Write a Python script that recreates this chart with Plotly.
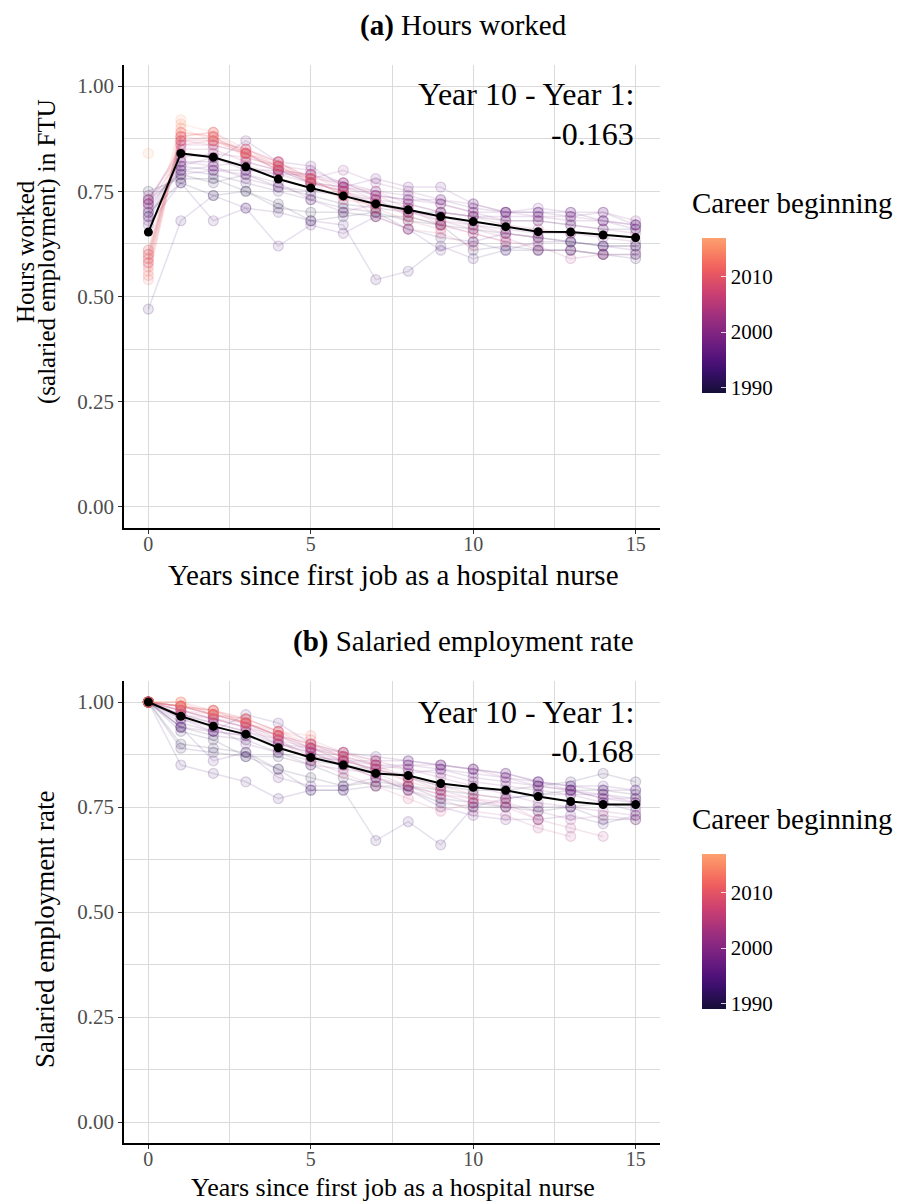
import numpy as np
import plotly.graph_objects as go
import plotly.express as px
from plotly.colors import sample_colorscale

# ---------------- data ----------------
years_since = list(range(16))
cohorts = list(range(1989, 2018))

# mean trajectories (black line)
hours_mean = [0.653, 0.840, 0.831, 0.808, 0.779, 0.758, 0.739, 0.720, 0.706, 0.690,
              0.678, 0.666, 0.654, 0.653, 0.646, 0.640]
emp_mean = [1.000, 0.966, 0.942, 0.923, 0.891, 0.868, 0.850, 0.830, 0.825, 0.806,
            0.797, 0.790, 0.775, 0.763, 0.756, 0.756]

# hours worked (salaried employment) in FTU, by career-beginning cohort
hours_1989 = [0.75, 0.78, 0.78, 0.75, 0.71, 0.70, 0.70, 0.69, 0.69, 0.67, 0.66, 0.65, 0.64, 0.63, 0.62, 0.62]
hours_1990 = [0.70, 0.77, 0.74, 0.75, 0.72, 0.68, 0.69, 0.70, 0.68, 0.67, 0.61, 0.62, 0.61, 0.61, 0.60, 0.60]
hours_1991 = [0.73, 0.79, 0.77, 0.79, 0.76, 0.74, 0.72, 0.71, 0.70, 0.70, 0.69, 0.68, 0.68, 0.67, 0.66, 0.66]
hours_1992 = [0.69, 0.80, 0.79, 0.77, 0.75, 0.73, 0.71, 0.70, 0.66, 0.64, 0.63, 0.61, 0.61, 0.61, 0.60, 0.59]
hours_1993 = [0.47, 0.68, 0.74, 0.71, 0.70, 0.68, 0.67, 0.54, 0.56, 0.62, 0.59, 0.61, 0.63, 0.63, 0.62, 0.62]
hours_1994 = [0.71, 0.81, 0.80, 0.80, 0.80, 0.77, 0.76, 0.74, 0.73, 0.73, 0.71, 0.70, 0.70, 0.70, 0.68, 0.67]
hours_1995 = [0.67, 0.77, 0.68, 0.71, 0.62, 0.67, 0.65, 0.69, 0.66, 0.61, 0.63, 0.65, 0.64, 0.63, 0.62, 0.61]
hours_1996 = [0.69, 0.82, 0.82, 0.87, 0.82, 0.81, 0.76, 0.78, 0.76, 0.76, 0.72, 0.70, 0.70, 0.69, 0.70, 0.67]
hours_1997 = [0.72, 0.80, 0.81, 0.78, 0.76, 0.75, 0.74, 0.73, 0.72, 0.70, 0.69, 0.69, 0.69, 0.68, 0.68, 0.66]
hours_1998 = [0.68, 0.81, 0.83, 0.80, 0.79, 0.79, 0.77, 0.75, 0.74, 0.72, 0.70, 0.70, 0.71, 0.70, 0.70, 0.68]
hours_1999 = [0.74, 0.79, 0.80, 0.79, 0.77, 0.73, 0.70, 0.72, 0.70, 0.69, 0.67, 0.66, 0.65, 0.65, 0.64, 0.63]
hours_2000 = [0.70, 0.82, 0.81, 0.82, 0.80, 0.78, 0.80, 0.77, 0.75, 0.73, 0.72, 0.70, 0.69, 0.69, 0.68, 0.67]
hours_2001 = [0.72, 0.83, 0.84, 0.83, 0.81, 0.80, 0.77, 0.74, 0.73, 0.72, 0.70, 0.68, 0.68, 0.67, 0.66, 0.65]
hours_2002 = [0.73, 0.84, 0.83, 0.81, 0.79, 0.77, 0.75, 0.73, 0.70, 0.68, 0.66, 0.64, 0.61, 0.61, 0.60, 0.60]
hours_2003 = [0.73, 0.85, 0.85, 0.82, 0.80, 0.77, 0.75, 0.72, 0.71, 0.67, 0.65, 0.63, 0.62, 0.59, 0.60]
hours_2004 = [0.72, 0.86, 0.86, 0.84, 0.80, 0.79, 0.76, 0.75, 0.72, 0.70, 0.69, 0.67, 0.66, 0.65]
hours_2005 = [0.60, 0.86, 0.87, 0.85, 0.82, 0.78, 0.77, 0.74, 0.71, 0.68, 0.67, 0.65, 0.64]
hours_2006 = [0.61, 0.87, 0.86, 0.84, 0.81, 0.77, 0.76, 0.73, 0.69, 0.67, 0.65, 0.63]
hours_2007 = [0.58, 0.87, 0.88, 0.84, 0.80, 0.79, 0.75, 0.69, 0.66, 0.65, 0.62]
hours_2008 = [0.59, 0.88, 0.89, 0.85, 0.82, 0.77, 0.75, 0.71, 0.68, 0.66]
hours_2009 = [0.57, 0.87, 0.87, 0.84, 0.81, 0.77, 0.73, 0.72, 0.70]
hours_2010 = [0.55, 0.88, 0.87, 0.85, 0.81, 0.78, 0.74, 0.71]
hours_2011 = [0.58, 0.89, 0.88, 0.84, 0.82, 0.78, 0.74]
hours_2012 = [0.60, 0.88, 0.89, 0.84, 0.80, 0.78]
hours_2013 = [0.54, 0.89, 0.88, 0.83, 0.81]
hours_2014 = [0.56, 0.90, 0.87, 0.84]
hours_2015 = [0.59, 0.91, 0.89]
hours_2016 = [0.61, 0.92]
hours_2017 = [0.84]

# salaried employment rate, by career-beginning cohort
emp_1989 = [1.00, 0.90, 0.89, 0.88, 0.84, 0.82, 0.80, 0.81, 0.80, 0.79, 0.78, 0.77, 0.78, 0.79, 0.79, 0.78]
emp_1990 = [1.00, 0.93, 0.91, 0.87, 0.87, 0.85, 0.82, 0.80, 0.79, 0.76, 0.75, 0.75, 0.74, 0.75, 0.72, 0.72]
emp_1991 = [1.00, 0.94, 0.92, 0.91, 0.88, 0.86, 0.85, 0.84, 0.82, 0.80, 0.79, 0.79, 0.80, 0.81, 0.83, 0.81]
emp_1992 = [1.00, 0.89, 0.88, 0.87, 0.84, 0.79, 0.79, 0.80, 0.80, 0.77, 0.76, 0.75, 0.75, 0.75, 0.76, 0.74]
emp_1993 = [1.00, 0.85, 0.83, 0.81, 0.77, 0.79, 0.79, 0.67, 0.715, 0.66, 0.75, 0.77, 0.78, 0.78, 0.78, 0.77]
emp_1994 = [1.00, 0.95, 0.93, 0.97, 0.95, 0.90, 0.88, 0.87, 0.86, 0.85, 0.84, 0.83, 0.81, 0.80, 0.80, 0.79]
emp_1995 = [1.00, 0.94, 0.86, 0.88, 0.82, 0.80, 0.80, 0.82, 0.79, 0.75, 0.73, 0.72, 0.72, 0.73, 0.71, 0.73]
emp_1996 = [1.00, 0.94, 0.93, 0.92, 0.90, 0.89, 0.87, 0.85, 0.85, 0.84, 0.83, 0.82, 0.81, 0.80, 0.79, 0.79]
emp_1997 = [1.00, 0.96, 0.94, 0.90, 0.88, 0.85, 0.84, 0.83, 0.83, 0.84, 0.82, 0.81, 0.80, 0.79, 0.77, 0.76]
emp_1998 = [1.00, 0.97, 0.95, 0.93, 0.90, 0.88, 0.86, 0.86, 0.86, 0.85, 0.84, 0.83, 0.81, 0.79, 0.77, 0.77]
emp_1999 = [1.00, 0.96, 0.93, 0.92, 0.89, 0.87, 0.86, 0.85, 0.84, 0.83, 0.81, 0.80, 0.79, 0.78, 0.76, 0.75]
emp_2000 = [1.00, 0.97, 0.95, 0.93, 0.91, 0.87, 0.86, 0.84, 0.85, 0.85, 0.84, 0.82, 0.80, 0.79, 0.78, 0.76]
emp_2001 = [1.00, 0.98, 0.96, 0.94, 0.92, 0.89, 0.88, 0.86, 0.84, 0.82, 0.80, 0.78, 0.76, 0.75, 0.74, 0.73]
emp_2002 = [1.00, 0.98, 0.96, 0.94, 0.90, 0.88, 0.85, 0.82, 0.80, 0.78, 0.76, 0.76, 0.74, 0.72, 0.73, 0.72]
emp_2003 = [1.00, 0.97, 0.96, 0.95, 0.91, 0.89, 0.86, 0.84, 0.82, 0.79, 0.77, 0.75, 0.72, 0.70, 0.68]
emp_2004 = [1.00, 0.99, 0.97, 0.95, 0.92, 0.88, 0.85, 0.82, 0.79, 0.77, 0.74, 0.73, 0.70, 0.68]
emp_2005 = [1.00, 0.99, 0.97, 0.96, 0.93, 0.89, 0.87, 0.83, 0.80, 0.78, 0.77, 0.76, 0.72]
emp_2006 = [1.00, 0.99, 0.98, 0.95, 0.92, 0.90, 0.88, 0.85, 0.82, 0.80, 0.78, 0.77]
emp_2007 = [1.00, 0.98, 0.96, 0.94, 0.91, 0.86, 0.83, 0.80, 0.77, 0.74, 0.76]
emp_2008 = [1.00, 0.99, 0.97, 0.95, 0.92, 0.89, 0.86, 0.84, 0.81, 0.79]
emp_2009 = [1.00, 0.98, 0.97, 0.95, 0.92, 0.90, 0.87, 0.85, 0.81]
emp_2010 = [1.00, 0.99, 0.98, 0.96, 0.93, 0.91, 0.88, 0.86]
emp_2011 = [1.00, 1.00, 0.98, 0.96, 0.93, 0.90, 0.87]
emp_2012 = [1.00, 0.99, 0.97, 0.95, 0.93, 0.92]
emp_2013 = [1.00, 0.99, 0.98, 0.95, 0.92]
emp_2014 = [1.00, 1.00, 0.97, 0.96]
emp_2015 = [1.00, 0.99, 0.98]
emp_2016 = [1.00, 1.00]
emp_2017 = [1.00]

hours_diff_label = "-0.163"
emp_diff_label = "-0.168"
x_tick_vals = [0, 5, 10, 15]
y_tick_vals = [0.0, 0.25, 0.5, 0.75, 1.0]
y_tick_text = ["0.00", "0.25", "0.50", "0.75", "1.00"]
cbar_ticks = [1990, 2000, 2010]

hours_series = [globals()[f"hours_{c}"] for c in cohorts]
emp_series = [globals()[f"emp_{c}"] for c in cohorts]

# ---------------- styling ----------------
FONT = "Liberation Serif"
CMIN, CMAX = 1989, 2017
anchors = np.linspace(0.1, 0.8, 15)
scale_cols = sample_colorscale(px.colors.sequential.Magma, list(anchors))
colorscale = [[i / (len(scale_cols) - 1), c] for i, c in enumerate(scale_cols)]


def cohort_rgb(c):
    t = (c - CMIN) / (CMAX - CMIN)
    col = sample_colorscale(colorscale, [t])[0]
    return col.replace("rgb(", "").replace(")", "")


# page body has an 8px margin: the figure is drawn 8px in from the corner
OFF = 8
W, H = 906 - OFF, 1202 - OFF
ML, MR, MT, MB = 124 - OFF, 906 - 660, 65 - OFF, 1202 - 1143
PW = W - ML - MR
PH = H - MT - MB


def px_x(p):  # reference-page pixel -> paper x
    return (p - OFF - ML) / PW


def px_y(p):  # reference-page pixel -> paper y
    return (H - MB - (p - OFF)) / PH


fig = go.Figure()

panels = [("x", "y", hours_series, hours_mean, "coloraxis"),
          ("x2", "y2", emp_series, emp_mean, "coloraxis2")]

for xa, ya, series, mean, cax in panels:
    for c, vals in zip(cohorts, series):
        rgb = cohort_rgb(c)
        fig.add_trace(go.Scatter(
            x=years_since[:len(vals)], y=vals, xaxis=xa, yaxis=ya,
            mode="lines+markers", showlegend=False, hoverinfo="skip",
            line=dict(color=f"rgba({rgb},0.13)", width=1.5),
            marker=dict(size=10, color=f"rgba({rgb},0.10)",
                        line=dict(color=f"rgba({rgb},0.18)", width=1.2)),
        ))
    fig.add_trace(go.Scatter(
        x=years_since, y=mean, xaxis=xa, yaxis=ya, mode="lines+markers",
        showlegend=False, line=dict(color="black", width=2),
        marker=dict(size=9, color="black"),
    ))
    # dummy trace carrying the colour axis
    fig.add_trace(go.Scatter(
        x=[None], y=[None], xaxis=xa, yaxis=ya, mode="markers", showlegend=False,
        marker=dict(color=[CMIN], coloraxis=cax),
    ))

grid = "#dadada"
tickfont = dict(family=FONT, size=21, color="#4d4d4d")
xcommon = dict(range=[-0.75, 15.75], tickvals=x_tick_vals, showgrid=True,
               gridcolor=grid, gridwidth=1, zeroline=False, showline=True,
               linecolor="black", linewidth=1.5, ticks="outside", ticklen=4,
               tickcolor="#333333", tickwidth=1,
               tickfont=dict(family=FONT, size=20, color="#4d4d4d"),
               ticklabelstandoff=-7,
               minor=dict(tickvals=[2.5, 7.5, 12.5], showgrid=True, gridcolor=grid,
                          gridwidth=1, ticks=""))
ycommon = dict(range=[-0.05, 1.05], tickvals=y_tick_vals, ticktext=y_tick_text,
               showgrid=True, gridcolor=grid, gridwidth=1, zeroline=False,
               showline=True, linecolor="black", linewidth=1.5, ticks="outside",
               ticklen=4, tickcolor="#333333", tickwidth=1, tickfont=tickfont,
               minor=dict(tickvals=[0.125, 0.375, 0.625, 0.875], showgrid=True,
                          gridcolor=grid, gridwidth=1, ticks=""))

ya_bottom = px_y(528)
yb_top = px_y(681)

cbar_common = dict(thickness=24, lenmode="pixels", len=175, xanchor="left",
                   x=px_x(692), yanchor="middle", outlinewidth=0,
                   tickvals=cbar_ticks, ticks="inside", ticklen=5,
                   tickcolor="rgba(255,255,255,0.8)", tickwidth=1.2,
                   tickfont=dict(family=FONT, size=21, color="black"))

fig.update_layout(
    width=W, height=H, autosize=False,
    margin=dict(l=ML, r=MR, t=MT, b=MB),
    paper_bgcolor="white", plot_bgcolor="white",
    font=dict(family=FONT, color="black"),
    xaxis=dict(domain=[0, 1], anchor="y", **xcommon),
    yaxis=dict(domain=[ya_bottom, 1], anchor="x", **ycommon),
    xaxis2=dict(domain=[0, 1], anchor="y2", **xcommon),
    yaxis2=dict(domain=[0, yb_top], anchor="x2", **ycommon),
    coloraxis=dict(colorscale=colorscale, cmin=CMIN, cmax=CMAX,
                   colorbar=dict(y=px_y(315.5), **cbar_common)),
    coloraxis2=dict(colorscale=colorscale, cmin=CMIN, cmax=CMAX,
                    colorbar=dict(y=px_y(931.5), **cbar_common)),
)

ann = []


def add_text(text, xp, yp, size, xanchor="center", yanchor="middle", angle=0):
    ann.append(dict(text=text, x=px_x(xp), y=px_y(yp), xref="paper", yref="paper",
                    xanchor=xanchor, yanchor=yanchor, showarrow=False, textangle=angle,
                    font=dict(family=FONT, size=size, color="black")))


# panel titles
add_text("<b>(a)</b> Hours worked", 463, 25, 29)
add_text("<b>(b)</b> Salaried employment rate", 463, 641, 29)
# x axis titles
add_text("Years since first job as a hospital nurse", 393, 575, 29)
add_text("Years since first job as a hospital nurse", 393, 1187, 26)
# y axis titles
add_text("Hours worked", 26, 252, 25, angle=-90)
add_text("(salaried employment) in FTU", 47, 252, 25, angle=-90)
add_text("Salaried employment rate", 45, 930, 27, angle=-90)
# colourbar titles
add_text("Career beginning", 690, 203, 29, xanchor="left")
add_text("Career beginning", 690, 819, 29, xanchor="left")

# difference annotations (data coords)
for xr, yr, lab, y1, y2 in [("x", "y", hours_diff_label, 0.981, 0.887),
                            ("x2", "y2", emp_diff_label, 0.976, 0.884)]:
    ann.append(dict(text="Year 10 - Year 1:", x=15, y=y1, xref=xr, yref=yr,
                    xanchor="right", yanchor="middle", showarrow=False,
                    font=dict(family=FONT, size=32, color="black")))
    ann.append(dict(text=lab, x=15, y=y2, xref=xr, yref=yr,
                    xanchor="right", yanchor="middle", showarrow=False,
                    font=dict(family=FONT, size=32, color="black")))

fig.update_layout(annotations=ann)
fig.write_html("out.html")
